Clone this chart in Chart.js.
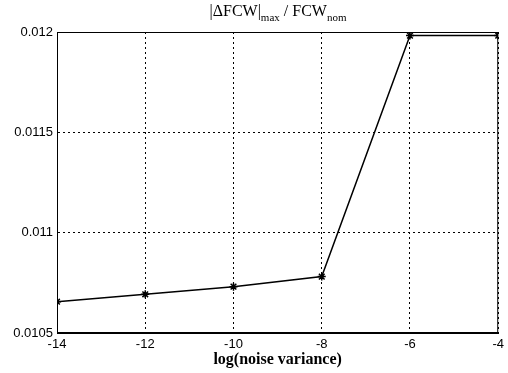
<!DOCTYPE html>
<html>
<head>
<meta charset="utf-8">
<script src="https://cdn.jsdelivr.net/npm/chart.js@4"></script>
<style>
  html, body { margin: 0; padding: 0; background: #fff; }
  #wrap { position: relative; width: 508px; height: 373px; }
  #title {
    position: absolute; left: 0; top: 2px; width: 556px; text-align: center;
    font-family: "Liberation Serif", "DejaVu Serif", serif; font-size: 16px; color: #000;
  }
  #title sub { font-size: 11px; vertical-align: -5px; }
</style>
</head>
<body>
<div id="wrap">
  <canvas id="chart" width="508" height="373"></canvas>
  <div id="title">|&Delta;FCW|<sub>max</sub> / FCW<sub>nom</sub></div>
</div>
<script>
const logVariance = [-14, -12, -10, -8, -6, -4];
const fcwRatio    = [0.010656, 0.010693, 0.010731, 0.010781, 0.011982, 0.011982];
const xTicks      = [-14, -12, -10, -8, -6, -4];
const yTicks      = [0.0105, 0.011, 0.0115, 0.012];

const ctx = document.getElementById('chart').getContext('2d');

new Chart(ctx, {
  type: 'line',
  data: {
    datasets: [{
      data: logVariance.map((x, i) => ({ x, y: fcwRatio[i] })),
      borderColor: '#000',
      borderWidth: 1.5,
      tension: 0,
      fill: false,
      pointStyle: 'star',
      pointRadius: 4,
      pointBorderColor: '#000',
      pointBorderWidth: 1.5
    }]
  },
  options: {
    responsive: false,
    animation: false,
    layout: { padding: { top: 32, right: 9, left: 0, bottom: 0 } },
    plugins: { legend: { display: false }, tooltip: { enabled: false } },
    scales: {
      x: {
        type: 'linear',
        min: xTicks[0],
        max: xTicks[xTicks.length - 1],
        afterBuildTicks: s => { s.ticks = xTicks.map(v => ({ value: v })); },
        afterFit: s => { s.height = 40; },
        ticks: {
          color: '#000',
          padding: 4,
          maxRotation: 0,
          font: { family: 'Liberation Sans, Arial', size: 13 },
          callback: v => String(v)
        },
        grid: { color: '#000', lineWidth: 1, drawTicks: false },
        border: { color: '#000', width: 1, dash: [2, 3] },
        title: {
          display: true,
          text: 'log(noise variance)',
          color: '#000',
          font: { family: 'Liberation Serif, Times New Roman', size: 16, weight: 'bold' },
          padding: { top: 0, bottom: 4 }
        }
      },
      y: {
        min: yTicks[0],
        max: yTicks[yTicks.length - 1],
        afterBuildTicks: s => { s.ticks = yTicks.map(v => ({ value: v })); },
        afterFit: s => { s.width = 57; },
        ticks: {
          color: '#000',
          padding: 4,
          font: { family: 'Liberation Sans, Arial', size: 13 },
          callback: v => String(parseFloat(v.toFixed(4)))
        },
        grid: { color: '#000', lineWidth: 1, drawTicks: false },
        border: { color: '#000', width: 1, dash: [2, 3] }
      }
    }
  },
  plugins: [{
    id: 'frame',
    beforeDatasetsDraw(chart) {
      const a = chart.chartArea, c = chart.ctx;
      c.save();
      c.strokeStyle = '#000';
      c.lineWidth = 1;
      c.setLineDash([]);
      c.strokeRect(a.left + 0.5, a.top + 0.5, a.right - a.left - 1, a.bottom - a.top - 1);
      c.restore();
    }
  }]
});
</script>
</body>
</html>
